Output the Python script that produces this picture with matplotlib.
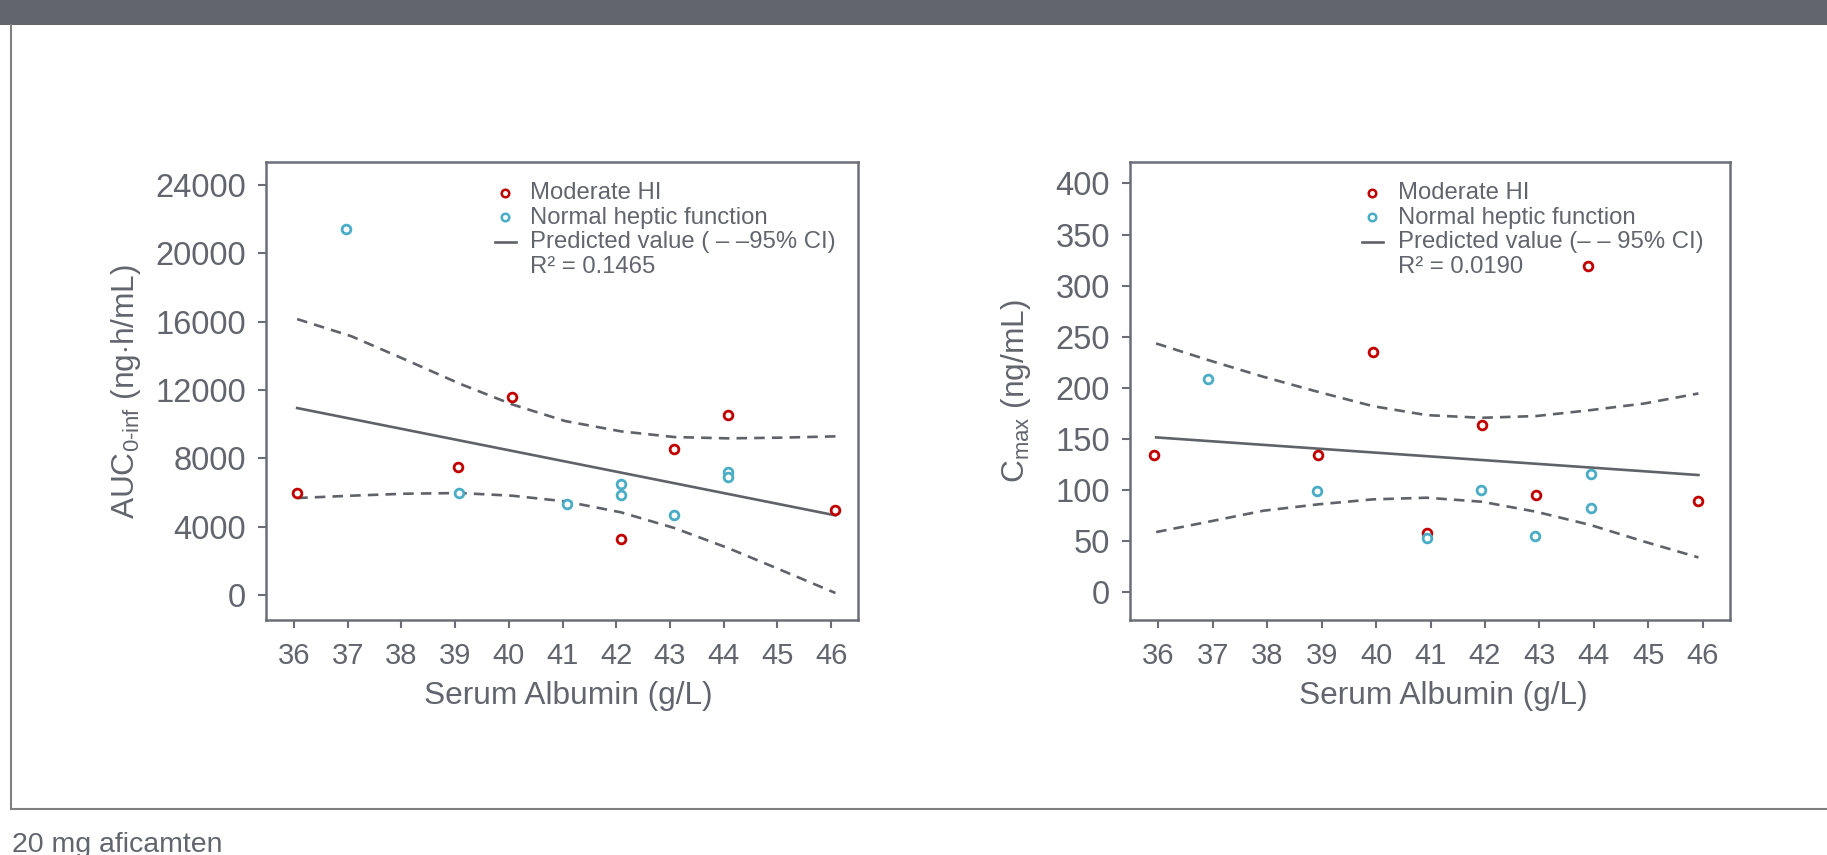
import matplotlib
matplotlib.use("Agg")
import matplotlib.pyplot as plt
from matplotlib.patches import Rectangle
from matplotlib.lines import Line2D

plt.rcParams['font.family'] = ['Liberation Sans', 'DejaVu Sans']
plt.rcParams['mathtext.fontset'] = 'custom'
plt.rcParams['mathtext.rm'] = 'Liberation Sans'
plt.rcParams['mathtext.it'] = 'Liberation Sans:italic'

GREY = '#62656d'
AXIS = '#6b6e76'
RED = '#c00000'
BLUE = '#4bacc6'

# AUC0-inf vs serum albumin
alb_hi_auc = [36.05, 39.06, 40.06, 42.09, 43.08, 44.08, 46.08]
auc_hi = [5970, 7510, 11570, 3260, 8570, 10560, 4960]
alb_nhf_auc = [36.97, 39.08, 41.08, 42.09, 42.09, 43.08, 44.08, 44.08]
auc_nhf = [21420, 5970, 5310, 6520, 5830, 4660, 7200, 6910]
fit_x_auc = [36.06, 46.08]
fit_auc = [10945, 4663]
ci_x_auc = [36.06, 37.07, 38.08, 39.08, 40.06, 41.05, 42.09, 43.08, 44.08, 45.02, 46.08]
ci_hi_auc = [16154, 15148, 13770, 12380, 11160, 10183, 9580, 9248, 9170, 9209, 9287]
ci_lo_auc = [5677, 5814, 5930, 5970, 5814, 5482, 4838, 3922, 2751, 1522, 117]

# Cmax vs serum albumin
alb_hi_cmax = [35.92, 38.93, 39.94, 40.93, 41.94, 42.94, 43.90, 45.92]
cmax_hi = [134.6, 134.0, 235.4, 57.7, 163.3, 94.9, 319.2, 89.3]
alb_nhf_cmax = [36.92, 38.92, 40.93, 41.93, 42.92, 43.94, 43.94]
cmax_nhf = [209.0, 99.4, 53.5, 99.8, 55.1, 115.4, 82.8]
fit_x_cmax = [35.96, 45.92]
fit_cmax = [151.6, 114.8]
ci_x_cmax = [35.96, 36.92, 37.93, 38.93, 39.94, 40.93, 41.94, 42.94, 43.94, 44.93, 45.92]
ci_hi_cmax = [243.5, 227.2, 210.9, 196.2, 182.2, 173.4, 170.8, 172.5, 178.3, 184.8, 194.6]
ci_lo_cmax = [59.0, 69.1, 79.9, 86.1, 91.0, 92.6, 88.7, 78.9, 65.9, 49.6, 34.2]

x_ticks = list(range(36, 47))
auc_ticks = [0, 4000, 8000, 12000, 16000, 20000, 24000]
cmax_ticks = [0, 50, 100, 150, 200, 250, 300, 350, 400]

W, H = 1827, 855
fig = plt.figure(figsize=(W / 100, H / 100), dpi=100)

# header band and page frame
fig.patches.append(Rectangle((0, 1 - 25 / H), 1, 25 / H, transform=fig.transFigure,
                             facecolor=GREY, edgecolor='none'))
fig.add_artist(Line2D([11 / W, 11 / W], [1 - 25 / H, 1 - 809 / H], color='#808080', lw=1.5))
fig.add_artist(Line2D([11 / W, 1], [1 - 809 / H, 1 - 809 / H], color='#808080', lw=1.5))
fig.text(12 / W, 3 / H, '20 mg aficamten', fontsize=20.5, color=GREY, va='baseline')

DASH = (0, (4, 2.7))
MK = dict(marker='o', ms=6.3, mfc='white', mew=2.0, ls='none')


def panel(rect, xh, yh, xn, yn, fx, fy, cx, chi, clo, ylim, yticks, ylabel,
          ylab_x, xlab_x, ci_label, r2):
    ax = fig.add_axes(rect)
    ax.plot(cx, chi, color='#5f6268', lw=1.9, ls=DASH)
    ax.plot(cx, clo, color='#5f6268', lw=1.9, ls=DASH)
    ax.plot(fx, fy, color='#5f6268', lw=1.9)
    ax.plot(xh, yh, mec=RED, zorder=3, **MK)
    ax.plot(xn, yn, mec=BLUE, zorder=3, **MK)

    ax.set_xlim(35.48, 46.5)
    ax.set_ylim(*ylim)
    ax.set_xticks(x_ticks)
    ax.set_yticks(yticks)
    for s in ax.spines.values():
        s.set_color(AXIS)
        s.set_linewidth(1.8)
    ax.tick_params(axis='both', direction='out', color=AXIS, width=1.5,
                   length=6, labelcolor=GREY)
    ax.tick_params(axis='x', labelsize=21, pad=10)
    ax.tick_params(axis='y', labelsize=23.5, pad=8.5)

    ax.set_xlabel('Serum Albumin (g/L)', fontsize=22.8, color=GREY)
    ax.xaxis.set_label_coords(xlab_x, -0.133)
    ax.set_ylabel(ylabel, fontsize=22.8, color=GREY)
    ax.yaxis.set_label_coords(ylab_x, 0.5)

    # legend block
    t = ax.transAxes
    lx = 0.404
    ax.plot([lx], [0.932], transform=t, mec=RED, **dict(MK, ms=5.4, mew=1.8))
    ax.plot([lx], [0.879], transform=t, mec=BLUE, **dict(MK, ms=5.4, mew=1.8))
    ax.plot([lx - 0.017, lx + 0.018], [0.826, 0.826], color='#5f6268', lw=1.9, transform=t)
    rows = ['Moderate HI', 'Normal heptic function', ci_label, r2]
    for i, s in enumerate(rows):
        ax.text(lx + 0.042, 0.932 - 0.0535 * i, s, transform=t, fontsize=17.2,
                color=GREY, va='center', ha='left')
    return ax


top = 1 - 620 / H
hgt = 458 / H
panel([266 / W, top, 592 / W, hgt], alb_hi_auc, auc_hi, alb_nhf_auc, auc_nhf,
      fit_x_auc, fit_auc, ci_x_auc, ci_hi_auc, ci_lo_auc, (-1464, 25350), auc_ticks,
      r'AUC$_{\mathrm{0\text{-}inf}}$ (ng$\cdot$h/mL)', -0.207, 0.511,
      'Predicted value ( \u2013 \u201395% CI)', 'R\u00b2 = 0.1465')
panel([1130 / W, top, 600 / W, hgt], alb_hi_cmax, cmax_hi, alb_nhf_cmax, cmax_nhf,
      fit_x_cmax, fit_cmax, ci_x_cmax, ci_hi_cmax, ci_lo_cmax, (-27, 421), cmax_ticks,
      r'C$_{\mathrm{max}}$ (ng/mL)', -0.162, 0.522,
      'Predicted value (\u2013 \u2013 95% CI)', 'R\u00b2 = 0.0190')

fig.savefig('out.png', dpi=100)
